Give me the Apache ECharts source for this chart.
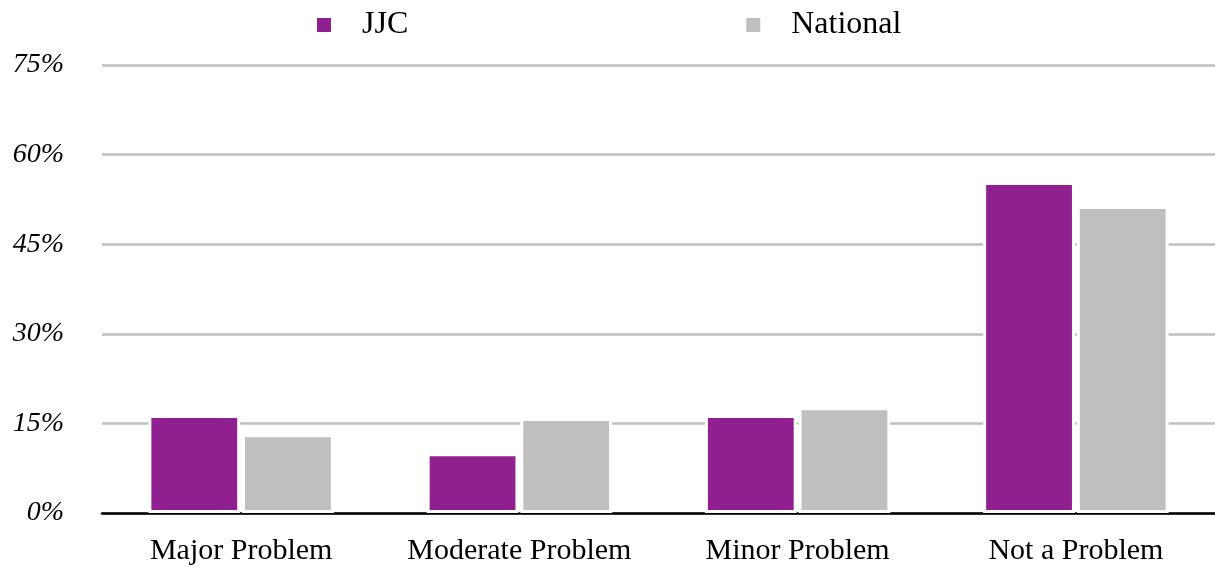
<!DOCTYPE html>
<html><head><meta charset="utf-8">
<script src="https://cdn.jsdelivr.net/npm/echarts@6/dist/echarts.min.js"></script>
<style>html,body{margin:0;padding:0;background:#fff}#c{width:1215px;height:567px}</style>
</head><body><div id="c"></div>
<script>
const categories = ['Major Problem','Moderate Problem','Minor Problem','Not a Problem'];
const jjc = [16.4, 10.0, 16.4, 55.4];
const national = [13.2, 15.9, 17.7, 51.4];
const yTicks = {min:0, max:75, interval:15};
const font = 'Liberation Serif';
const chart = echarts.init(document.getElementById('c'));
chart.setOption({
  animation:false,
  textStyle:{fontFamily:font},
  legend:{top:4,left:310,itemWidth:16,itemHeight:16,itemGap:336,icon:'rect',
    textStyle:{fontFamily:font,fontSize:32,color:'#000',padding:[0,0,0,25]},
    data:['JJC','National']},
  grid:{left:102,right:0,top:65,bottom:54},
  xAxis:{type:'category',data:categories,
    axisLine:{lineStyle:{color:'#000',width:2.5}},axisTick:{show:false},
    axisLabel:{interval:0,color:'#000',fontFamily:font,fontSize:30,margin:23}},
  yAxis:{type:'value',min:yTicks.min,max:yTicks.max,interval:yTicks.interval,
    axisLabel:{formatter:'{value}%',color:'#000',fontFamily:font,fontStyle:'italic',fontSize:28,margin:38},
    splitLine:{lineStyle:{color:'#BFBFBF',width:2.5}},axisLine:{show:false},axisTick:{show:false}},
  series:[
    {name:'JJC',type:'bar',data:jjc,barWidth:'33%',barGap:'2%',
      itemStyle:{color:'#90208F',borderColor:'#fff',borderWidth:3}},
    {name:'National',type:'bar',data:national,barWidth:'33%',
      itemStyle:{color:'#BFBFBF',borderColor:'#fff',borderWidth:3}}
  ]
});
</script></body></html>
